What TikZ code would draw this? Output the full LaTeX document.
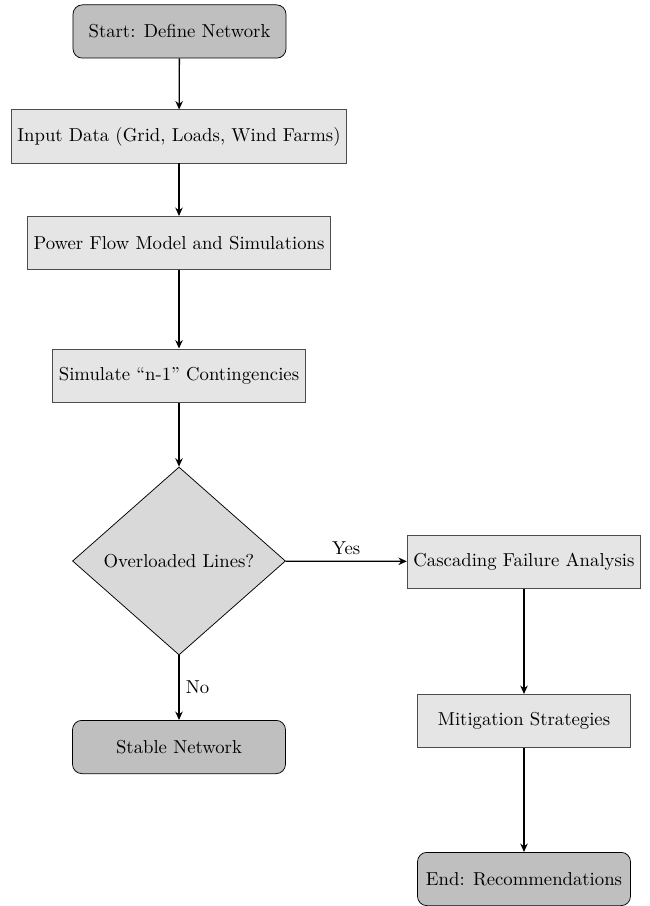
\documentclass[tikz,border=0pt]{standalone}
\usetikzlibrary{shapes.geometric,arrows.meta}
\begin{document}
\begin{tikzpicture}[x=1cm/53.25,y=-1cm/53.25,
  termbox/.style={rectangle, rounded corners=5pt, draw=black, fill=gray!50, minimum width=4cm, minimum height=1cm, align=center},
  procbox/.style={rectangle, draw=black!70, fill=gray!20, minimum width=4cm, minimum height=1cm, align=center},
  decbox/.style={diamond, draw=black, fill=gray!30, minimum width=4cm, minimum height=3.53cm, aspect=1, inner sep=1pt, align=center},
  conn/.style={-{Stealth[length=4.5pt,width=4pt]}, line width=0.7pt}]
\useasboundingbox (0,0) rectangle (649,906);
\node[termbox] (start) at (179.5,31.5) {Start: Define Network};
\node[procbox] (input) at (179,136.5) {Input Data (Grid, Loads, Wind Farms)};
\node[procbox] (power) at (179,243) {Power Flow Model and Simulations};
\node[procbox] (sim) at (179,375.5) {Simulate ``n-1'' Contingencies};
\node[decbox] (dec) at (179,561) {Overloaded Lines?};
\node[procbox] (casc) at (524,561.5) {Cascading Failure Analysis};
\node[procbox] (mit) at (524,721) {Mitigation Strategies};
\node[termbox] (stable) at (179,747) {Stable Network};
\node[termbox] (end) at (524,879) {End: Recommendations};
\draw[conn] (start) -- (input);
\draw[conn] (input) -- (power);
\draw[conn] (power) -- (sim);
\draw[conn] (sim) -- (dec);
\draw[conn] (dec) -- node[midway, above] {Yes} (casc);
\draw[conn] (dec) -- node[midway, right] {No} (stable);
\draw[conn] (casc) -- (mit);
\draw[conn] (mit) -- (end);
\end{tikzpicture}
\end{document}
